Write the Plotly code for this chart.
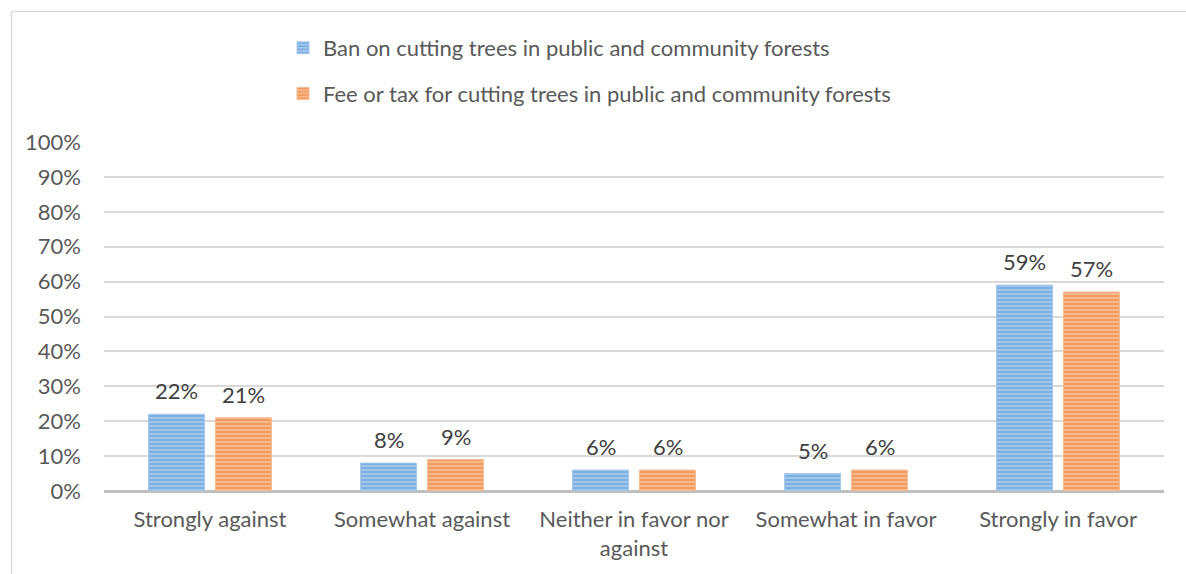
import plotly.graph_objects as go

categories = ["Strongly against", "Somewhat against", "Neither in favor nor<br>against",
              "Somewhat in favor", "Strongly in favor"]
ban_values = [22, 8, 6, 5, 59]
fee_values = [21, 9, 6, 6, 57]
series_names = ["Ban on cutting trees in public and community forests",
                "Fee or tax for cutting trees in public and community forests"]
y_ticks = list(range(0, 101, 10))
y_tick_labels = [f"{v}%" for v in y_ticks]

FONT = "Lato"
TEXT = "#595959"
SIZE = 22

# plot-area geometry in pixels (used to place the outer frame lines)
W, H = 1186, 574
L, R, T, B = 104, 22, 142, 83
pw, ph = W - L - R, H - T - B

BAR_OFFSET = 33.5  # px from category centre to each bar centre


def px_to_paper_x(px):
    return (px - L) / pw


def px_to_paper_y(py):
    return (H - B - py) / ph


def bar_trace(name, values, light, dark, group):
    return go.Bar(
        name=name, x=categories, y=values,
        legendgroup=group,
        marker=dict(
            color=light,
            line=dict(color=light, width=1),
            pattern=dict(shape="-", fgcolor=dark, bgcolor=light,
                         size=4, solidity=0.55, fillmode="overlay"),
        ),
    )


fig = go.Figure()
fig.add_trace(bar_trace(series_names[0], ban_values, "#A4C8EC", "#5796D5", "a"))
fig.add_trace(bar_trace(series_names[1], fee_values, "#F8BC92", "#EC7A2E", "b"))

# value labels above each bar
for values, shift in ((ban_values, -BAR_OFFSET), (fee_values, BAR_OFFSET)):
    for cat, v in zip(categories, values):
        fig.add_annotation(
            x=cat, y=v, xref="x", yref="y", xshift=shift, yshift=8,
            text=f"{v}%", showarrow=False, yanchor="bottom",
            font=dict(family=FONT, size=SIZE, color="#404040"),
        )

# outer chart frame (left and top edges)
fig.add_shape(type="line", xref="paper", yref="paper",
              x0=px_to_paper_x(11.5), x1=px_to_paper_x(11.5),
              y0=px_to_paper_y(H + 5), y1=px_to_paper_y(11.5),
              line=dict(color="#D9D9D9", width=1.5))
fig.add_shape(type="line", xref="paper", yref="paper",
              x0=px_to_paper_x(11.5), x1=px_to_paper_x(W + 5),
              y0=px_to_paper_y(11.5), y1=px_to_paper_y(11.5),
              line=dict(color="#D9D9D9", width=1.5))

fig.update_layout(
    width=W, height=H,
    margin=dict(l=L, r=R, t=T, b=B, pad=0),
    paper_bgcolor="white", plot_bgcolor="white",
    barmode="group", bargap=0.368, bargroupgap=0.164,
    font=dict(family=FONT, size=SIZE, color=TEXT),
    showlegend=True,
    legend=dict(
        orientation="v", x=px_to_paper_x(283), xanchor="left",
        y=px_to_paper_y(27), yanchor="top",
        font=dict(family=FONT, size=SIZE, color=TEXT),
        tracegroupgap=14, itemwidth=30,
        bgcolor="rgba(0,0,0,0)",
    ),
    xaxis=dict(
        showgrid=False, showline=False, ticks="", ticklabelstandoff=13,
        tickfont=dict(family=FONT, size=SIZE, color=TEXT),
    ),
    yaxis=dict(
        range=[0, 100], tickvals=y_ticks, ticktext=y_tick_labels,
        showgrid=True, gridcolor="#D9D9D9", gridwidth=1.5,
        zeroline=True, zerolinecolor="#BFBFBF", zerolinewidth=3,
        showline=False, ticks="", ticklabelstandoff=22,
        tickfont=dict(family=FONT, size=SIZE, color=TEXT),
    ),
)

fig.write_html("out.html")
